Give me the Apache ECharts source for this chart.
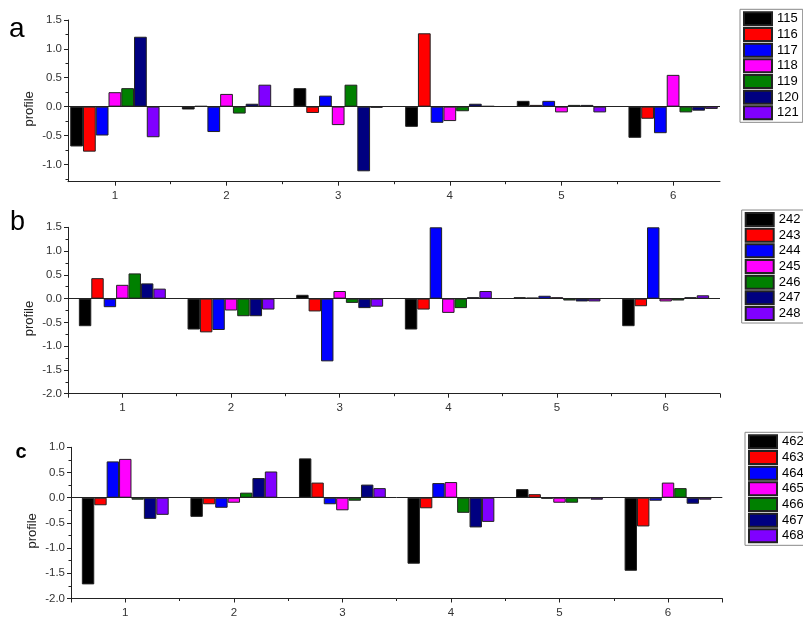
<!DOCTYPE html>
<html>
<head>
<meta charset="utf-8">
<script src="https://cdn.jsdelivr.net/npm/echarts@6/dist/echarts.min.js"></script>
<style>html,body{margin:0;padding:0;background:#fff;}#c{width:803px;height:619px;}</style>
</head>
<body>
<div id="c"></div>
<script>
// x categories (groups)
const groups = [1, 2, 3, 4, 5, 6];
const xTickLabels = ['1', '2', '3', '4', '5', '6'];

// panel a series names and values
const namesA = ['115', '116', '117', '118', '119', '120', '121'];
const a115 = [-0.69, -0.05, 0.32, -0.35, 0.10, -0.54];
const a116 = [-0.78, 0.01, -0.11, 1.27, 0.03, -0.21];
const a117 = [-0.50, -0.44, 0.19, -0.28, 0.10, -0.46];
const a118 = [0.25, 0.22, -0.32, -0.25, -0.10, 0.55];
const a119 = [0.32, -0.12, 0.38, -0.08, 0.03, -0.10];
const a120 = [1.21, 0.05, -1.12, 0.05, 0.03, -0.07];
const a121 = [-0.53, 0.38, -0.02, 0.01, -0.10, -0.04];

// panel b
const namesB = ['242', '243', '244', '245', '246', '247', '248'];
const b242 = [-0.58, -0.65, 0.08, -0.65, 0.03, -0.58];
const b243 = [0.43, -0.71, -0.27, -0.23, 0.02, -0.16];
const b244 = [-0.18, -0.66, -1.32, 1.50, 0.06, 1.50];
const b245 = [0.29, -0.25, 0.16, -0.30, 0.03, -0.06];
const b246 = [0.53, -0.37, -0.09, -0.20, -0.04, -0.04];
const b247 = [0.32, -0.37, -0.20, 0.03, -0.06, 0.03];
const b248 = [0.21, -0.23, -0.17, 0.16, -0.06, 0.07];

// panel c
const namesC = ['462', '463', '464', '465', '466', '467', '468'];
const c462 = [-1.72, -0.38, 0.78, -1.31, 0.17, -1.45];
const c463 = [-0.15, -0.13, 0.30, -0.21, 0.07, -0.57];
const c464 = [0.72, -0.20, -0.13, 0.29, -0.02, -0.06];
const c465 = [0.77, -0.10, -0.25, 0.31, -0.10, 0.30];
const c466 = [-0.04, 0.10, -0.06, -0.30, -0.10, 0.19];
const c467 = [-0.42, 0.39, 0.26, -0.59, -0.01, -0.12];
const c468 = [-0.34, 0.52, 0.19, -0.48, -0.04, -0.04];

// y tick labels
const yLabelsA = [-1.0, -0.5, 0.0, 0.5, 1.0, 1.5];
const yLabelsB = [-2.0, -1.5, -1.0, -0.5, 0.0, 0.5, 1.0, 1.5];
const yLabelsC = [-2.0, -1.5, -1.0, -0.5, 0.0, 0.5, 1.0];

const palette = ['#000000', '#ff0000', '#0000ff', '#ff00ff', '#008000', '#000080', '#8000ff'];
const panelLetters = ['a', 'b', 'c'];

const FONT = 'Liberation Sans, Arial, sans-serif';
const AX = '#222';

const panels = [
  { names: namesA, vals: [a115, a116, a117, a118, a119, a120, a121], yLabels: yLabelsA,
    grid: { left: 68, right: 83, top: 20, bottom: 437.3 },
    xMin: 0.58, xMax: 6.42, xTicks: [1, 2, 3, 4, 5, 6], yMin: -1.3, yMax: 1.5,
    legend: { left: 740, top: 9.3 } },
  { names: namesB, vals: [b242, b243, b244, b245, b246, b247, b248], yLabels: yLabelsB,
    grid: { left: 68, right: 83, top: 227.3, bottom: 225.3 },
    xMin: 0.5, xMax: 6.5, xTicks: [0.5, 1, 2, 3, 4, 5, 6, 6.5], yMin: -2, yMax: 1.5,
    legend: { left: 741.7, top: 210 } },
  { names: namesC, vals: [c462, c463, c464, c465, c466, c467, c468], yLabels: yLabelsC,
    grid: { left: 71, right: 80.7, top: 447.3, bottom: 15.7 },
    xMin: 0.5, xMax: 6.5, xTicks: [0.5, 1, 2, 3, 4, 5, 6, 6.5], yMin: -2, yMax: 1.0,
    legend: { left: 745, top: 432.3 } }
];

const grids = [], xAxes = [], yAxes = [], legends = [], series = [];
panels.forEach((p, pi) => {
  grids.push(Object.assign({ containLabel: false }, p.grid));
  xAxes.push({
    type: 'value', gridIndex: pi, min: p.xMin, max: p.xMax,
    axisLine: { show: true, onZero: false, lineStyle: { color: AX, width: 1 } },
    axisTick: { show: true, length: 4, inside: false, customValues: p.xTicks, lineStyle: { color: AX } },
    minorTick: { show: true, splitNumber: 2, length: 2.5, lineStyle: { color: AX } },
    axisLabel: { customValues: groups, margin: 8.5, fontSize: 11.5, fontFamily: FONT, color: '#333',
      formatter: v => xTickLabels[groups.indexOf(v)] || '' },
    splitLine: { show: false }, minorSplitLine: { show: false }
  });
  const yAx = {
    type: 'value', gridIndex: pi, min: p.yMin, max: p.yMax,
    name: 'profile', nameLocation: 'middle', nameGap: 32, nameMoveOverlap: false,
    nameTextStyle: { fontSize: 13, fontFamily: FONT, color: '#222', padding: [0, 16, 0, 0] },
    axisLine: { show: true, onZero: false, lineStyle: { color: AX, width: 1 } },
    axisTick: { show: true, length: 4, inside: false, customValues: p.yLabels, lineStyle: { color: AX } },
    minorTick: { show: true, splitNumber: 2, length: 2.5, lineStyle: { color: AX } },
    axisLabel: { customValues: p.yLabels, margin: 6, fontSize: 11.5, fontFamily: FONT, color: '#333',
      formatter: v => v.toFixed(1) },
    splitLine: { show: false }, minorSplitLine: { show: false }
  };
  if (pi === 0) { yAx.splitNumber = 5; } else { yAx.interval = 0.5; }
  yAxes.push(yAx);
  legends.push({
    data: p.names, orient: 'vertical', left: p.legend.left, top: p.legend.top,
    itemWidth: 28, itemHeight: 13, itemGap: 0.67, icon: 'rect',
    padding: [2, 4, 2, 3], borderColor: '#888', borderWidth: 1, backgroundColor: '#fff',
    selectedMode: false,
    textStyle: { fontSize: 13, fontFamily: FONT, color: '#000', lineHeight: 15 }
  });
  p.names.forEach((nm, si) => {
    const s = {
      name: nm, type: 'bar', xAxisIndex: pi, yAxisIndex: pi,
      data: groups.map((g, j) => [g, p.vals[si][j]]),
      barGap: '0%', barCategoryGap: '20%',
      itemStyle: { color: palette[si], borderColor: '#222', borderWidth: 1 },
      emphasis: { disabled: true }
    };
    if (si === 0) {
      s.markLine = {
        silent: true, symbol: ['none', 'none'], animation: false,
        label: { show: false },
        lineStyle: { color: '#222', width: 1, type: 'solid' },
        data: [{ yAxis: 0 }]
      };
    }
    series.push(s);
  });
});

const chart = echarts.init(document.getElementById('c'), null, { renderer: 'canvas' });
chart.setOption({
  animation: false,
  backgroundColor: '#fff',
  grid: grids, xAxis: xAxes, yAxis: yAxes, legend: legends, series: series,
  graphic: [
    { type: 'text', left: 9, top: 15, style: { text: panelLetters[0], fontSize: 28, fontFamily: FONT, fill: '#000' } },
    { type: 'text', left: 10, top: 209, style: { text: panelLetters[1], fontSize: 27, fontFamily: FONT, fill: '#000' } },
    { type: 'text', left: 15.5, top: 442, style: { text: panelLetters[2], fontSize: 20, fontWeight: 'bold', fontFamily: FONT, fill: '#000' } }
  ]
});
</script>
</body>
</html>
